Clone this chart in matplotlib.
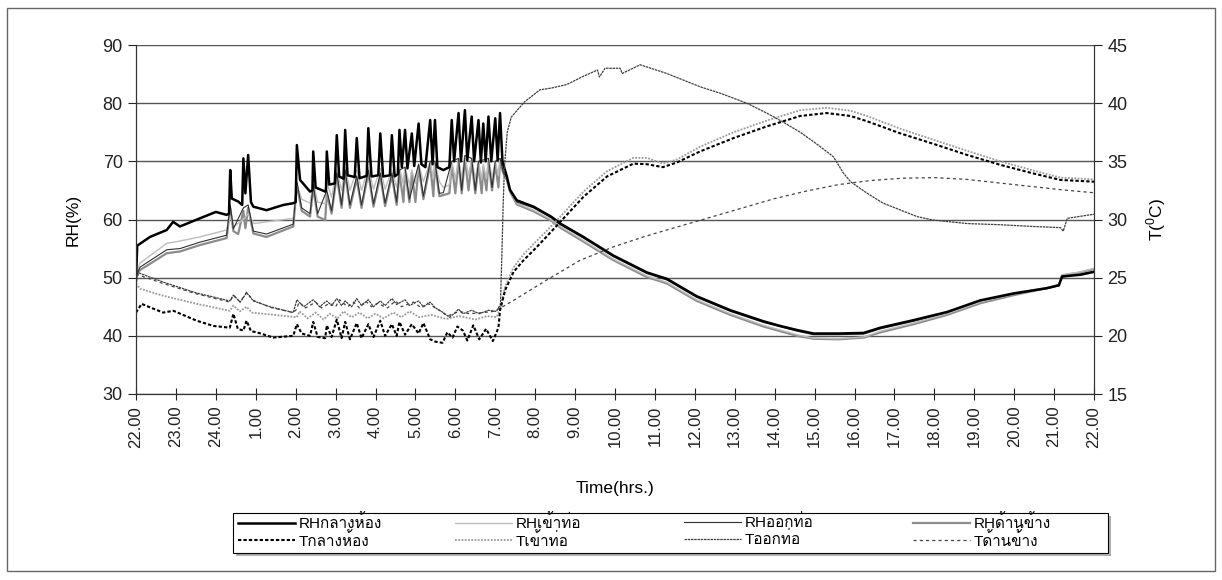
import matplotlib
matplotlib.use("Agg")
import matplotlib.pyplot as plt
from matplotlib import font_manager
from matplotlib.ft2font import FT2Font
from matplotlib.patches import Rectangle


def thai_family():
    # first installed family that has Thai glyphs
    for f in font_manager.fontManager.ttflist:
        try:
            if 0x0E01 in FT2Font(f.fname).get_charmap():
                return f.name
        except Exception:
            pass
    return None


fam = ["Liberation Sans"]
th = thai_family()
if th:
    fam.append(th)
fam.append("DejaVu Sans")
plt.rcParams["font.family"] = fam
plt.rcParams["mathtext.fontset"] = "custom"
plt.rcParams["mathtext.rm"] = "Liberation Sans"

# ---- data (hours after 22.00) ----
hour_labels = ["22.00", "23.00", "24.00", "1.00", "2.00", "3.00", "4.00", "5.00", "6.00",
               "7.00", "8.00", "9.00", "10.00", "11.00", "12.00", "13.00", "14.00", "15.00",
               "16.00", "17.00", "18.00", "19.00", "20.00", "21.00", "22.00"]

names_rh = ["RHกลางห้อง", "RHเข้าท่อ", "RHออกท่อ", "RHด้านข้าง"]
names_t = ["Tกลางห้อง", "Tเข้าท่อ", "Tออกท่อ", "Tด้านข้าง"]

# RH centre of room
rh_mid_t = [0.0, 0.03, 0.35, 0.77, 0.93, 1.1, 1.6, 2.0, 2.27, 2.33, 2.36, 2.40, 2.56, 2.66, 2.69,
            2.74, 2.81, 2.88, 2.94, 3.27, 3.69, 3.94, 4.0, 4.03, 4.11, 4.36, 4.42, 4.44, 4.50,
            4.74, 4.76, 4.78, 4.84, 4.98, 5.03, 5.09, 5.20, 5.24, 5.30, 5.48, 5.53, 5.60, 5.78,
            5.82, 5.90, 6.07, 6.12, 6.19, 6.36, 6.41, 6.48, 6.56, 6.60, 6.66, 6.74, 6.80, 6.91,
            6.97, 7.08, 7.15, 7.25, 7.37, 7.43, 7.49, 7.55, 7.7, 7.85, 7.91, 7.97, 8.08, 8.14,
            8.24, 8.30, 8.41, 8.47, 8.58, 8.64, 8.70, 8.76, 8.83, 8.90, 9.00, 9.06, 9.12, 9.18,
            9.29, 9.37, 9.54, 9.96, 10.4, 10.63, 11.21, 11.96, 12.8, 13.3, 14.05, 14.89, 15.72,
            16.14, 16.56, 16.97, 17.6, 18.23, 18.65, 19.48, 20.32, 21.15, 21.99, 22.82, 23.12,
            23.2, 23.66, 24.0]
rh_mid = [49.5, 55.5, 57.0, 58.2, 59.6, 58.8, 60.2, 61.3, 60.8, 61.0, 68.5, 63.6, 63.1, 62.5, 70.5,
          64.5, 71.1, 63.0, 62.2, 61.6, 62.5, 62.8, 63.0, 72.8, 66.8, 64.8, 65.0, 71.7, 65.5,
          64.8, 65.2, 71.7, 66.0, 66.2, 74.5, 67.4, 67.0, 75.4, 67.6, 67.3, 74.0, 67.1, 67.5,
          75.7, 67.4, 67.6, 74.8, 67.4, 67.6, 74.5, 67.4, 67.8, 75.4, 69.0, 75.4, 68.8, 74.8,
          69.2, 76.5, 69.5, 69.0, 77.1, 69.5, 77.1, 69.0, 68.5, 69.0, 77.1, 70.0, 78.3, 70.0,
          78.8, 70.2, 77.7, 70.0, 77.1, 69.8, 76.5, 70.0, 77.7, 70.0, 77.4, 70.2, 78.3, 70.0,
          67.4, 65.1, 63.3, 62.2, 60.5, 59.3, 57.0, 53.8, 50.9, 49.8, 46.8, 44.4, 42.5,
          41.7, 41.0, 40.4, 40.4, 40.5, 41.4, 42.7, 44.1, 46.1, 47.3, 48.2, 48.7,
          50.2, 50.5, 51.0]

# RH duct inlet
rh_in_t = [0.0, 0.05, 0.1, 0.77, 1.1, 1.6, 2.27, 2.36, 2.45, 2.69, 2.81, 2.95, 3.27, 3.94, 4.03,
           4.15, 4.36, 4.44, 4.55, 4.74, 4.78, 4.9, 5.03, 5.15, 5.24, 5.36, 5.53, 5.65, 5.82,
           5.95, 6.12, 6.24, 6.41, 6.53, 6.6, 6.7, 6.74, 6.85, 6.91, 7.0, 7.08, 7.2, 7.37, 7.45,
           7.49, 7.6, 7.7, 7.85, 7.91, 8.0, 8.08, 8.16, 8.24, 8.33, 8.41, 8.5, 8.58, 8.66, 8.7,
           8.78, 8.83, 8.92, 9.0, 9.08, 9.12, 9.2, 9.29, 9.37, 9.54, 9.96, 10.4, 10.63, 11.21,
           11.96, 12.8, 13.3, 14.05, 14.89, 15.72, 16.56, 16.97, 17.6, 18.23, 18.65, 19.48,
           20.32, 21.15, 21.99, 22.82, 23.12, 23.2, 23.66, 24.0]
rh_in = [50.0, 51.5, 52.5, 55.9, 56.3, 57.0, 58.2, 60.5, 58.8, 60.0, 61.0, 59.3, 59.6, 60.2, 66.0,
         63.5, 62.8, 66.5, 63.0, 62.7, 66.5, 63.8, 68.5, 65.0, 69.0, 65.0, 68.5, 65.0, 69.0,
         65.2, 68.8, 65.2, 68.5, 65.5, 69.0, 66.0, 69.0, 66.0, 68.5, 66.2, 69.5, 66.5, 70.0, 67.0,
         70.0, 66.5, 65.5, 66.0, 70.0, 67.0, 70.5, 67.0, 71.0, 67.5, 70.5, 67.0, 70.0, 66.8, 69.5,
         67.0, 70.5, 67.2, 70.0, 67.5, 70.5, 68.5, 67.0, 65.0, 62.8, 61.6, 60.0, 58.8, 56.4,
         53.2, 50.3, 49.2, 46.2, 43.8, 41.8, 40.2, 39.6, 39.5, 39.8, 40.8, 42.2,
         43.8, 45.8, 47.2, 48.3, 48.8, 50.5, 51.0, 51.6]

# RH duct outlet
rh_out_t = [0.0, 0.05, 0.1, 0.77, 1.1, 1.6, 2.27, 2.36, 2.44, 2.69, 2.81, 2.94, 3.27, 3.94, 4.03,
            4.15, 4.36, 4.44, 4.55, 4.78, 4.9, 5.03, 5.15, 5.24, 5.36, 5.53, 5.65, 5.82, 5.95,
            6.12, 6.24, 6.41, 6.53, 6.6, 6.74, 6.85, 7.08, 7.2, 7.37, 7.49, 7.6, 7.7, 7.91, 8.08,
            8.16, 8.24, 8.41, 8.5, 8.58, 8.83, 8.92, 9.0, 9.12, 9.2, 9.29, 9.37, 9.54, 9.96,
            10.4, 10.63, 11.21, 11.96, 12.8, 13.3, 14.05, 14.89, 15.72, 16.56, 16.97, 17.6,
            18.23, 18.65, 19.48, 20.32, 21.15, 21.99, 22.82, 23.12, 23.2, 23.66, 24.0]
rh_out = [50.0, 51.0, 51.8, 54.8, 55.0, 56.1, 57.3, 62.5, 58.4, 62.0, 62.5, 58.0, 57.5, 59.2, 66.5,
          62.0, 61.0, 66.0, 61.0, 65.0, 61.5, 68.0, 62.5, 68.5, 62.5, 67.5, 62.5, 68.5, 62.7,
          68.0, 62.8, 68.0, 63.0, 68.5, 69.0, 63.5, 69.5, 64.0, 70.0, 70.0, 64.5, 64.6, 70.0, 70.5,
          65.0, 71.0, 70.5, 65.0, 70.0, 70.5, 65.5, 70.0, 70.5, 68.2, 67.2, 65.0, 63.0, 62.0,
          60.3, 59.1, 56.8, 53.6, 50.7, 49.6, 46.6, 44.2, 42.3, 40.8, 40.2, 40.2,
          40.3, 41.2, 42.5, 44.0, 46.0, 47.2, 48.1, 48.6, 50.1, 50.6, 51.1]

# RH side
rh_side_t = [0.0, 0.05, 0.1, 0.77, 1.1, 1.6, 2.27, 2.36, 2.44, 2.56, 2.69, 2.74, 2.81, 2.94, 3.27,
             3.94, 4.03, 4.15, 4.36, 4.44, 4.55, 4.74, 4.78, 4.9, 5.03, 5.15, 5.24, 5.36, 5.53,
             5.65, 5.82, 5.95, 6.12, 6.24, 6.41, 6.53, 6.6, 6.7, 6.74, 6.85, 6.91, 7.0, 7.08, 7.2,
             7.37, 7.45, 7.49, 7.6, 7.7, 7.85, 7.91, 8.0, 8.08, 8.16, 8.24, 8.33, 8.41, 8.5, 8.58,
             8.66, 8.7, 8.78, 8.83, 8.92, 9.0, 9.08, 9.12, 9.2, 9.29, 9.37, 9.54, 9.96, 10.4,
             10.63, 11.21, 11.96, 12.8, 13.3, 14.05, 14.89, 15.72, 16.56, 16.97, 17.6, 18.23,
             18.65, 19.48, 20.32, 21.15, 21.99, 22.82, 23.12, 23.2, 23.66, 24.0]
rh_side = [50.0, 50.8, 51.3, 54.2, 54.5, 55.6, 56.8, 62.0, 58.0, 57.5, 61.5, 58.5, 62.0, 57.6, 57.0,
           58.8, 66.0, 61.5, 60.5, 65.5, 60.5, 59.9, 64.5, 61.0, 67.5, 62.0, 68.0, 62.0, 67.0,
           62.0, 68.0, 62.2, 67.5, 62.3, 67.5, 62.5, 68.0, 63.0, 68.5, 63.0, 68.0, 63.0, 69.0, 63.5,
           69.5, 64.0, 69.5, 64.0, 64.2, 64.5, 69.5, 64.5, 70.0, 64.5, 70.5, 65.0, 70.0, 64.5, 69.5,
           64.5, 69.0, 65.0, 70.0, 65.0, 69.5, 65.5, 70.0, 68.0, 66.8, 64.8, 62.6, 61.4, 59.8,
           58.6, 56.2, 53.0, 50.1, 49.0, 46.0, 43.6, 41.6, 40.0, 39.5, 39.4, 39.7,
           40.6, 42.0, 43.6, 45.6, 47.0, 48.2, 48.7, 50.4, 50.9, 51.5]

# T centre of room (deg C)
t_mid_t = [0.0, 0.14, 0.35, 0.68, 0.94, 1.52, 1.94, 2.35, 2.44, 2.55, 2.69, 2.77, 2.88, 3.03, 3.44,
           3.94, 4.03, 4.15, 4.36, 4.44, 4.55, 4.74, 4.78, 4.9, 5.03, 5.15, 5.24, 5.36, 5.53,
           5.65, 5.82, 5.95, 6.12, 6.24, 6.41, 6.53, 6.6, 6.74, 6.91, 7.08, 7.2, 7.37, 7.5, 7.68,
           7.8, 7.93, 8.05, 8.19, 8.3, 8.45, 8.6, 8.77, 8.94, 9.08, 9.12, 9.25, 9.46, 9.71, 9.96,
           10.21, 10.63, 11.21, 11.8, 12.46, 12.8, 13.2, 13.55, 14.13, 14.97, 15.8, 16.64, 17.3,
           17.9, 18.31, 19.15, 19.98, 20.82, 21.65, 22.49, 23.16, 24.0]
t_mid = [22.0, 22.75, 22.45, 22.0, 22.15, 21.3, 20.85, 20.7, 21.9, 20.6, 20.45, 21.3, 20.4, 20.3, 19.85,
         20.0, 21.0, 20.2, 20.0, 21.2, 19.9, 19.8, 20.9, 19.9, 21.4, 19.8, 21.2, 19.7, 21.1,
         19.8, 21.0, 19.9, 21.3, 20.0, 21.0, 20.0, 21.2, 20.1, 21.0, 20.2, 21.1, 19.7, 19.5, 19.4,
         20.3, 19.85, 20.8, 20.45, 19.6, 20.9, 19.7, 20.6, 19.55, 20.7, 22.2, 23.95, 25.5, 26.5, 27.35,
         28.25, 29.8, 31.95, 33.7, 34.8, 34.75, 34.5, 34.9, 35.85, 37.0, 38.0, 38.9, 39.15,
         38.9, 38.45, 37.4, 36.5, 35.55, 34.7, 33.95, 33.4, 33.25]

# T duct inlet
t_in_t = [0.0, 0.1, 0.68, 1.52, 2.35, 2.44, 2.6, 2.77, 2.9, 3.19, 4.03, 4.1, 4.3, 4.5, 4.7, 4.85,
          5.05, 5.2, 5.4, 5.6, 5.8, 6.0, 6.2, 6.45, 6.65, 6.85, 7.1, 7.4, 7.77, 8.1, 8.5, 8.8,
          9.03, 9.12, 9.25, 9.46, 9.71, 9.96, 10.21, 10.63, 11.21, 11.8, 12.46, 12.8, 13.2, 13.55,
          14.13, 14.97, 15.8, 16.64, 17.3, 17.9, 18.31, 19.15, 19.98, 20.82, 21.65, 22.49, 23.16,
          24.0]
t_in = [24.5, 24.05, 23.45, 22.75, 22.15, 22.6, 22.1, 22.5, 22.0, 21.9, 21.6, 22.1, 21.5, 22.0, 21.4, 21.9,
        21.5, 22.1, 21.6, 22.0, 21.5, 21.9, 21.5, 22.0, 21.6, 22.1, 21.6, 21.8, 21.45, 21.7, 21.4, 21.7,
        21.6, 22.3, 24.25, 25.9, 27.0, 27.9, 28.75, 30.25, 32.4, 34.15, 35.3, 35.3, 34.8, 35.15,
        36.25, 37.5, 38.5, 39.4, 39.6, 39.35, 38.9, 37.8, 36.85, 35.9, 35.0, 34.2, 33.6,
        33.45]

# T duct outlet
t_out_t = [0.0, 0.7, 1.5, 2.35, 2.44, 2.61, 2.77, 2.94, 3.36, 3.94, 4.03, 4.2, 4.44, 4.6, 4.78, 4.9,
           5.03, 5.15, 5.24, 5.4, 5.53, 5.65, 5.82, 5.95, 6.12, 6.24, 6.41, 6.53, 6.74, 6.85,
           7.08, 7.2, 7.37, 7.5, 7.7, 7.85, 8.0, 8.08, 8.19, 8.41, 8.6, 8.83, 9.03, 9.13, 9.17,
           9.2, 9.23, 9.3, 9.4, 9.73, 10.12, 10.41, 10.79, 11.17, 11.56, 11.61, 11.75, 12.13,
           12.18, 12.63, 13.3, 14.14, 14.64, 15.3, 15.8, 16.2, 16.64, 17.05, 17.47, 17.72, 17.9,
           18.32, 18.72, 19.57, 19.97, 20.83, 21.65, 22.48, 23.16, 23.23, 23.33, 23.8, 24.0]
t_out = [25.5, 24.6, 23.7, 23.0, 23.5, 22.9, 23.7, 23.0, 22.5, 22.0, 23.1, 22.5, 23.1, 22.5, 23.0, 22.6,
         23.2, 22.6, 23.0, 22.5, 23.2, 22.6, 23.1, 22.5, 23.0, 22.6, 23.2, 22.7, 23.1, 22.6,
         23.0, 22.5, 22.9, 22.4, 22.0, 21.6, 22.0, 22.3, 21.9, 22.2, 21.9, 22.2, 22.1, 22.7, 27.5,
         31.5, 34.5, 37.5, 38.8, 40.1, 41.15, 41.3, 41.6, 42.25, 42.85, 42.25, 43.0, 43.0,
         42.55, 43.3, 42.55, 41.4, 40.85, 40.0, 39.15, 38.4, 37.5, 36.5, 35.4, 34.0, 33.25,
         32.25, 31.4, 30.25, 29.95, 29.65, 29.55, 29.4, 29.3, 29.0, 30.1, 30.35, 30.45]

# T side
t_side_t = [0.0, 0.68, 1.52, 2.35, 2.44, 2.61, 2.77, 2.94, 3.36, 3.94, 4.03, 4.08, 4.25, 4.5, 4.65,
            4.85, 5.0, 5.1, 5.3, 5.45, 5.6, 5.75, 5.9, 6.05, 6.3, 6.5, 6.65, 6.95, 7.15, 7.3, 7.6,
            7.8, 8.1, 8.35, 8.7, 8.95, 9.16, 9.46, 10.29, 11.13, 11.96, 12.8, 13.6, 14.4, 15.2,
            16.0, 16.8, 17.6, 18.4, 19.2, 20.0, 20.8, 21.6, 22.4, 23.2, 24.0]
t_side = [25.3, 24.5, 23.6, 22.9, 23.5, 22.9, 23.75, 23.05, 22.45, 22.0, 22.3, 22.9, 22.4, 22.9, 22.4,
          22.8, 22.5, 23.1, 22.5, 22.9, 22.4, 23.0, 22.5, 22.8, 22.4, 23.0, 22.5, 22.9, 22.4, 22.8, 22.2,
          21.7, 22.1, 21.9, 22.0, 22.1, 22.45, 23.05, 24.8, 26.5, 27.65, 28.6, 29.4, 30.2, 31.0,
          31.8, 32.45, 33.0, 33.35, 33.55, 33.6, 33.45, 33.15, 32.85, 32.55, 32.3]

# ---- figure ----
W, H = 1222, 580
fig = plt.figure(figsize=(W / 100, H / 100), dpi=100)
fig.patches.append(Rectangle((0.006, 0.015), 0.988, 0.972, transform=fig.transFigure,
                             fill=False, edgecolor="#666666", lw=1.0))

ax = fig.add_axes([136 / W, 1 - 394 / H, (1094 - 136) / W, (394 - 45) / H])
ax2 = ax.twinx()

h_rh_side, = ax.plot(rh_side_t, rh_side, color="#8c8c8c", lw=1.6)
h_rh_in, = ax.plot(rh_in_t, rh_in, color="#bdbdbd", lw=1.0)
h_rh_out, = ax.plot(rh_out_t, rh_out, color="#303030", lw=0.8)
h_rh_mid, = ax.plot(rh_mid_t, rh_mid, color="black", lw=1.8)

h_t_in, = ax2.plot(t_in_t, t_in, color="#9a9a9a", lw=1.3, ls=(0, (1, 0.8)))
h_t_side, = ax2.plot(t_side_t, t_side, color="#444444", lw=0.9, ls=(0, (2.5, 2.5)))
h_t_out, = ax2.plot(t_out_t, t_out, color="#404040", lw=0.9, ls=(0, (2, 0.6)))
h_t_mid, = ax2.plot(t_mid_t, t_mid, color="black", lw=1.5, ls=(0, (1.6, 1.0)))

ax.set_xlim(0, 24)
ax.set_ylim(30, 90)
ax2.set_ylim(15, 45)
ax.set_xticks(range(25))
ax.set_xticklabels(hour_labels, rotation=90)
ax.set_yticks(range(30, 91, 10))
ax2.set_yticks(range(15, 46, 5))

ax.yaxis.grid(True, color="#555555", lw=1.0)
ax.set_axisbelow(True)
for a in (ax, ax2):
    a.spines["top"].set_visible(False)
    for s in ("left", "right", "bottom"):
        a.spines[s].set_color("#333333")
ax.tick_params(axis="x", direction="inout", length=9, labelsize=12, pad=4, colors="#222222")
ax.tick_params(axis="y", direction="out", length=6, labelsize=13, colors="#222222")
ax2.tick_params(axis="y", direction="out", length=6, labelsize=13, colors="#222222")

ax.set_ylabel("RH(%)", fontsize=12.5, labelpad=16)
ax2.set_ylabel("T($^{0}$C)", fontsize=12.5, labelpad=12)
ax.set_xlabel("Time(hrs.)", fontsize=12.5, labelpad=24)

# legend: four columns of equal width inside one box
fig.patches.append(Rectangle((236 / W, 1 - 556 / H), (1108 - 233) / W, 40 / H,
                             transform=fig.transFigure, color="#b0b0b0", lw=0))
fig.patches.append(Rectangle((233 / W, 1 - 553 / H), (1108 - 233) / W, 40 / H,
                             transform=fig.transFigure, facecolor="white",
                             edgecolor="black", lw=0.8))
pairs = [(h_rh_mid, h_t_mid), (h_rh_in, h_t_in), (h_rh_out, h_t_out), (h_rh_side, h_t_side)]
col_x = [238, 455, 684, 913]
for i, (hr, ht) in enumerate(pairs):
    fig.legend([hr, ht], [names_rh[i], names_t[i]], loc="upper left",
               bbox_to_anchor=(col_x[i] / W, 1 - 514 / H), frameon=False, fontsize=11,
               handlelength=3.7, handletextpad=0.3, borderpad=0, borderaxespad=0,
               labelspacing=0.05)

fig.savefig("out.png", dpi=100)
